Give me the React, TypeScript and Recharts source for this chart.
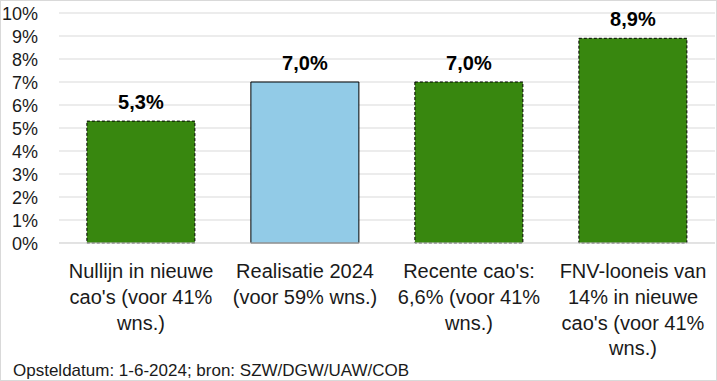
import React from "react";
import { BarChart, Bar, XAxis, YAxis, CartesianGrid, Cell, LabelList } from "recharts";

const categories = ["Nullijn", "Realisatie", "Recente", "FNV"];
const values = [5.3, 7.0, 7.0, 8.9];
const categoryLines = [
  ["Nullijn in nieuwe", "cao's (voor 41%", "wns.)"],
  ["Realisatie 2024", "(voor 59% wns.)"],
  ["Recente cao's:", "6,6% (voor 41%", "wns.)"],
  ["FNV-looneis van", "14% in nieuwe", "cao's (voor 41%", "wns.)"],
];
const yTicks = [0, 1, 2, 3, 4, 5, 6, 7, 8, 9, 10];
const fills = ["#38870F", "#92CBE7", "#38870F", "#38870F"];
const dashed = [true, false, true, true];
const footer = "Opsteldatum: 1-6-2024; bron: SZW/DGW/UAW/COB";

const data = categories.map((c, i) => ({ name: c, value: values[i], idx: i }));

const FONT = "'Liberation Sans', Arial, sans-serif";

const CatTick = (props: any) => {
  const { x, y, payload } = props;
  const lines = categoryLines[payload.index] || [];
  return (
    <g>
      {lines.map((l, i) => (
        <text
          key={i}
          x={x}
          y={y + 27 + i * 25.8}
          textAnchor="middle"
          fontFamily={FONT}
          fontSize={20}
          fill="#1a1a1a"
        >
          {l}
        </text>
      ))}
    </g>
  );
};

const YTick = (props: any) => {
  const { x, y, payload } = props;
  return (
    <text x={x - 13} y={y + 6.5} textAnchor="end" fontFamily={FONT} fontSize={18} fill="#1a1a1a">
      {payload.value}%
    </text>
  );
};

export default function App() {
  return (
    <div
      style={{
        position: "absolute",
        left: 0,
        top: 0,
        width: 717,
        height: 381,
        background: "#fff",
        boxSizing: "border-box",
        border: "1px solid #d9d9d9",
        overflow: "hidden",
      }}
    >
      <div style={{ position: "absolute", left: -1, top: -1 }}>
        <BarChart
          width={717}
          height={381}
          data={data}
          margin={{ top: 13, right: 2, bottom: 0, left: 0 }}
          barCategoryGap="17%"
        >
          <CartesianGrid vertical={false} stroke="#d9d9d9" strokeWidth={1} />
          <XAxis
            dataKey="name"
            height={138}
            axisLine={{ stroke: "#d9d9d9" }}
            tickLine={false}
            tick={<CatTick />}
            interval={0}
          />
          <YAxis
            width={59}
            domain={[0, 10]}
            ticks={yTicks}
            axisLine={false}
            tickLine={false}
            tick={<YTick />}
            interval={0}
          />
          <Bar dataKey="value" isAnimationActive={false}>
            {data.map((d, i) => (
              <Cell
                key={i}
                fill={fills[i]}
                stroke="#000"
                strokeWidth={1}
                strokeDasharray={dashed[i] ? "3 2" : undefined}
              />
            ))}
            <LabelList
              dataKey="value"
              position="top"
              offset={12}
              formatter={(v: any) => Number(v).toFixed(1).replace(".", ",") + "%"}
              style={{ fontFamily: FONT, fontSize: 20, fontWeight: "bold", fill: "#000" }}
            />
          </Bar>
        </BarChart>
      </div>
      <div
        style={{
          position: "absolute",
          left: 12,
          top: 360,
          fontFamily: FONT,
          fontSize: 17,
          color: "#1a1a1a",
          whiteSpace: "nowrap",
          lineHeight: "19px",
        }}
      >
        {footer}
      </div>
    </div>
  );
}
